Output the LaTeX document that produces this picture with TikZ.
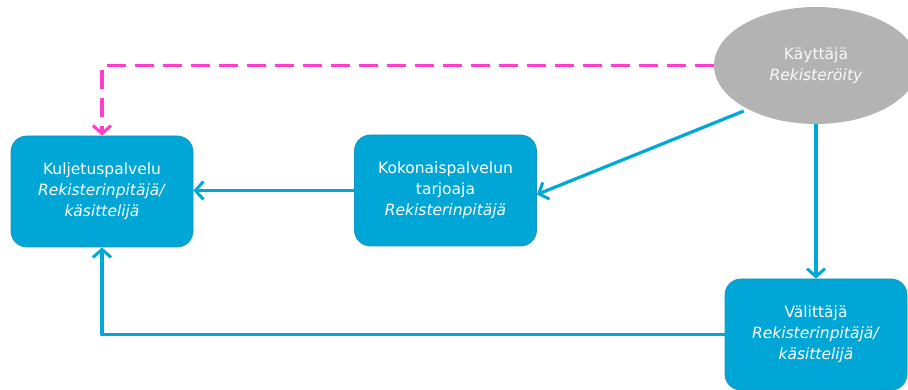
\documentclass[tikz,border=0pt]{standalone}
\usepackage{fontspec}
\setmainfont{DejaVu Sans}
\usetikzlibrary{arrows.meta,shapes.geometric}

\definecolor{boxblue}{HTML}{00A6D6}
\definecolor{boxedge}{HTML}{1596C2}
\definecolor{lineblue}{HTML}{00A8D8}
\definecolor{userGray}{HTML}{B3B3B3}
\definecolor{pinkdash}{HTML}{FF3DCB}

\tikzset{
    rolebox/.style={draw=boxedge, line width=0.8pt, fill=boxblue, rounded corners=16pt,
        minimum width=182pt, minimum height=111pt, align=center, text=white,
        font=\fontsize{15.5}{21}\selectfont},
    userblob/.style={ellipse, fill=userGray, minimum width=204pt, minimum height=117pt,
        align=center, text=white!95!gray, font=\fontsize{15.5}{21}\selectfont},
    flow/.style={draw=lineblue, line width=3.2pt, line join=round,
        -{Straight Barb[length=8pt,width=18pt,line width=3pt]}},
    optflow/.style={draw=pinkdash, line width=3.6pt, dash pattern=on 19pt off 9pt,
        -{Straight Barb[length=8pt,width=18pt,line width=3pt]}}
}

\begin{document}
\begin{tikzpicture}[x=1pt,y=-1pt]
    \useasboundingbox (0,0) rectangle (908,390);

    \node[userblob] (user) at (816,65.5) {Käyttäjä\\\textit{Rekisteröity}};
    \node[rolebox] (transport) at (102,191.5) {Kuljetuspalvelu\\\textit{Rekisterinpitäjä/}\\\textit{käsittelijä}};
    \node[rolebox] (provider) at (445.5,190.5) {Kokonaispalvelun\\tarjoaja\\\textit{Rekisterinpitäjä}};
    \node[rolebox] (broker) at (816,334.5) {Välittäjä\\\textit{Rekisterinpitäjä/}\\\textit{käsittelijä}};

    \draw[optflow] (user.west) -| (transport.north);
    \draw[flow] (provider.west) -- (provider.west -| transport.east);
    \draw[flow] (user.south west) ++(0,4) -- ([yshift=-4pt]provider.east);
    \draw[flow] (user.south) -- (broker.north);
    \draw[flow] (broker.west) -| (transport.south);
\end{tikzpicture}
\end{document}
